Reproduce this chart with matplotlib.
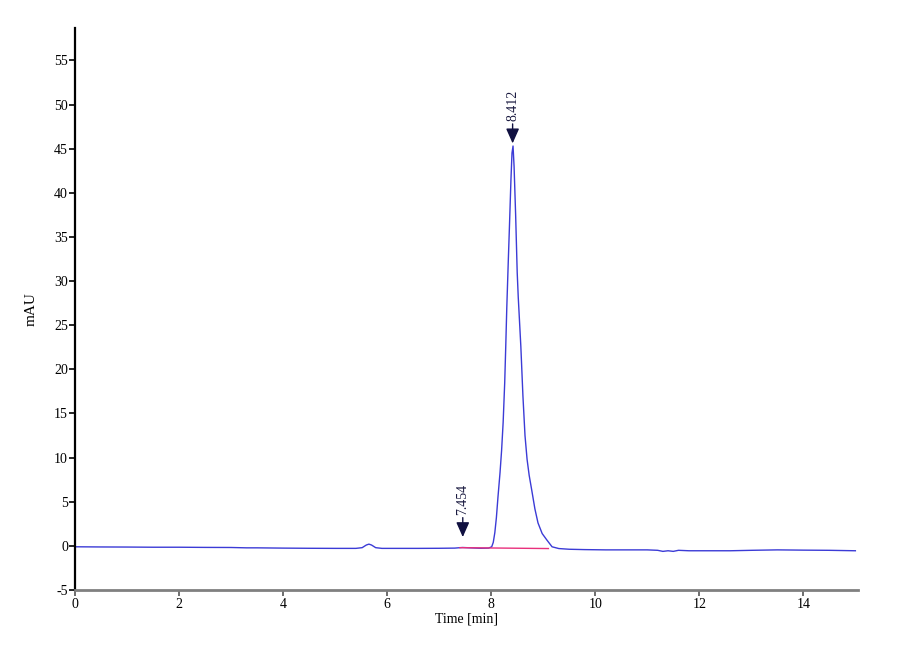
import matplotlib
matplotlib.use("Agg")
import matplotlib.pyplot as plt

# chromatogram trace (time in min, signal in mAU)
time_min = [0.0, 0.5, 1.0, 1.5, 2.0, 2.5, 3.0, 3.3, 3.5, 4.0, 4.5, 5.0, 5.4,
            5.52, 5.6, 5.65, 5.7, 5.78, 5.9, 6.2, 6.6, 7.0, 7.3, 7.45, 7.6,
            7.8, 7.95, 8.01, 8.04, 8.07, 8.10, 8.13, 8.17, 8.20, 8.23, 8.26,
            8.28, 8.30, 8.33, 8.35, 8.38, 8.40, 8.42, 8.44, 8.47, 8.50, 8.52,
            8.57, 8.61, 8.65, 8.69, 8.73, 8.78, 8.84, 8.90, 8.98, 9.07, 9.17,
            9.3, 9.5, 9.8, 10.2, 10.6, 11.0, 11.2, 11.3, 11.4, 11.5, 11.6,
            11.8, 12.2, 12.6, 13.0, 13.5, 14.0, 14.5, 15.0]
signal_mau = [-0.10, -0.12, -0.13, -0.15, -0.15, -0.17, -0.18, -0.22, -0.22,
              -0.25, -0.27, -0.28, -0.28, -0.20, 0.10, 0.20, 0.10, -0.20,
              -0.28, -0.28, -0.28, -0.27, -0.25, -0.18, -0.22, -0.27, -0.25,
              -0.10, 0.4, 1.5, 3.2, 5.5, 8.3, 10.8, 14.0, 18.5, 22.6, 27.0,
              32.5, 36.0, 41.5, 44.5, 45.3, 43.0, 37.5, 31.0, 28.2, 22.6,
              17.0, 12.5, 9.8, 8.0, 6.3, 4.2, 2.6, 1.4, 0.67, -0.10, -0.30,
              -0.38, -0.42, -0.45, -0.45, -0.45, -0.50, -0.62, -0.55, -0.62,
              -0.50, -0.55, -0.55, -0.55, -0.50, -0.45, -0.48, -0.50, -0.55]

# integration baseline under the main peak
base_t = [7.40, 9.10]
base_y = [-0.20, -0.30]

# peak labels: retention time and where the marker tip sits
peak_rt = [7.454, 8.412]
peak_tip = [1.0, 45.6]
peak_lbl = ["7.454", "8.412"]

plt.rcParams["font.family"] = ["Liberation Serif", "DejaVu Serif"]
plt.rcParams["axes.unicode_minus"] = False

fig = plt.figure(figsize=(9, 6.6), dpi=100)
ax = fig.add_axes([0.0833, 0.106, 0.87, 0.852])

ax.plot(time_min, signal_mau, color="#3b3bd6", lw=1.0)
ax.plot(base_t, base_y, color="#e8307c", lw=1.0)

for rt, tip, lbl in zip(peak_rt, peak_tip, peak_lbl):
    ax.annotate(lbl, xy=(rt, tip), xytext=(0, 16), textcoords="offset points",
                rotation=90, ha="center", va="bottom", fontsize=10,
                color="#1a1a40",
                arrowprops=dict(arrowstyle="-|>,head_length=0.9,head_width=0.4",
                                color="#101040", lw=1.0, shrinkA=0, shrinkB=0))

ax.set_xlim(0, 15.05)
ax.set_ylim(-5, 58.7)
ax.set_xticks(range(0, 15, 2))
ax.set_yticks(range(-5, 56, 5))
ax.tick_params(labelsize=10, length=4, width=1.2, pad=1)
ax.tick_params(axis="x", colors="#555555", labelcolor="black", pad=2)

for side in ("top", "right"):
    ax.spines[side].set_visible(False)
ax.spines["left"].set_linewidth(1.6)
ax.spines["left"].set_color("black")
ax.spines["bottom"].set_linewidth(2.0)
ax.spines["bottom"].set_color("#808080")

ax.set_xlabel("Time [min]", fontsize=10, labelpad=1)
ax.set_ylabel("mAU", fontsize=11, labelpad=12)

fig.savefig("out.png", dpi=100)
